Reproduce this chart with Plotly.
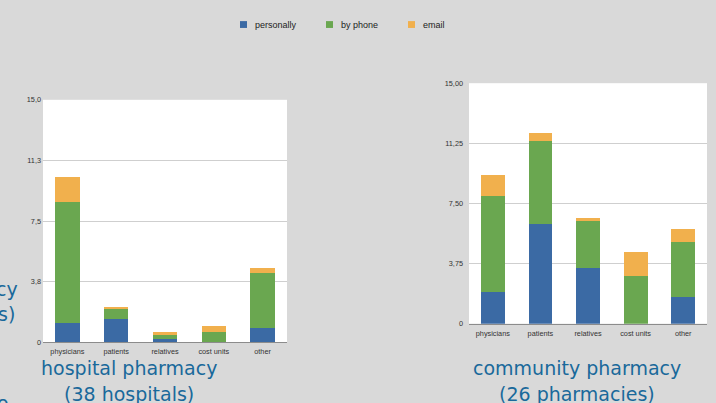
import plotly.graph_objects as go

W, H = 716, 403

categories = ["physicians", "patients", "relatives", "cost units", "other"]
series_names = ["personally", "by phone", "email"]
series_colors = ["#3b6aa4", "#6aa750", "#f1b04d"]

hosp_personally = [1.19, 1.41, 0.22, 0.0, 0.91]
hosp_phone = [7.50, 0.67, 0.27, 0.61, 3.38]
hosp_email = [1.52, 0.12, 0.12, 0.40, 0.32]

comm_personally = [1.97, 6.20, 3.47, 0.0, 1.68]
comm_phone = [6.02, 5.19, 2.92, 2.98, 3.41]
comm_email = [1.31, 0.53, 0.22, 1.52, 0.81]

tick_vals = [0, 3.75, 7.5, 11.25, 15]
hosp_tick_text = ["0", "3,8", "7,5", "11,3", "15,0"]
comm_tick_text = ["0", "3,75", "7,50", "11,25", "15,00"]

hosp_title = ["hospital pharmacy", "(38 hospitals)"]
comm_title = ["community pharmacy", "(26 pharmacies)"]


def px(x):
    return x / W


def py(y):
    return 1 - y / H


fig = go.Figure()

hosp = [hosp_personally, hosp_phone, hosp_email]
comm = [comm_personally, comm_phone, comm_email]
for vals, name, col in zip(hosp, series_names, series_colors):
    fig.add_trace(go.Bar(x=categories, y=vals, name=name, marker_color=col,
                         marker_line_width=0, width=0.5, showlegend=False,
                         xaxis="x", yaxis="y"))
for vals, name, col in zip(comm, series_names, series_colors):
    fig.add_trace(go.Bar(x=categories, y=vals, name=name, marker_color=col,
                         marker_line_width=0, width=0.5, showlegend=False,
                         xaxis="x2", yaxis="y2"))

tickfont = dict(family="Liberation Sans, Arial, sans-serif", size=7.3, color="#333333")

xcommon = dict(showline=True, linecolor="#8c8c8c", linewidth=1, ticks="",
               showgrid=False, tickfont=tickfont, fixedrange=True)
ycommon = dict(range=[0, 15], tickvals=tick_vals, showgrid=True, gridcolor="#cfcfcf",
               gridwidth=1, zeroline=False, showline=False, ticks="",
               tickfont=tickfont, fixedrange=True)

fig.update_layout(
    width=W, height=H,
    margin=dict(l=0, r=0, t=0, b=0),
    paper_bgcolor="#d9d9d9",
    plot_bgcolor="#ffffff",
    barmode="stack",
    showlegend=False,
    xaxis=dict(domain=[px(43), px(287)], anchor="y", ticklabelstandoff=2, **xcommon),
    yaxis=dict(domain=[py(346), py(98)], anchor="x", ticktext=hosp_tick_text,
               ticklabelstandoff=1, **ycommon),
    xaxis2=dict(domain=[px(469), px(707)], anchor="y2", ticklabelstandoff=3, **xcommon),
    yaxis2=dict(domain=[py(327), py(81)], anchor="x2", ticktext=comm_tick_text,
                ticklabelstandoff=5, **ycommon),
)

# legend (drawn manually to match the small square keys)
legend_left = [240, 326, 408]
shapes = []
annotations = []
for name, col, x0 in zip(series_names, series_colors, legend_left):
    shapes.append(dict(type="rect", xref="paper", yref="paper",
                       x0=px(x0), x1=px(x0 + 7), y0=py(24.5), y1=py(17.5),
                       fillcolor=col, line=dict(width=0)))
    annotations.append(dict(text=name, xref="paper", yref="paper",
                            x=px(x0 + 13), y=py(21), xanchor="left", yanchor="middle",
                            showarrow=False,
                            font=dict(family="Liberation Sans, Arial, sans-serif",
                                      size=9, color="#222222")))

title_font = dict(family="DejaVu Sans, Verdana, sans-serif", size=19, color="#19699b")
for lines, cx in ((hosp_title, 129), (comm_title, 577)):
    for line, cy in zip(lines, (372.5, 399)):
        annotations.append(dict(text=line, xref="paper", yref="paper",
                                x=px(cx), y=py(cy), xanchor="center", yanchor="middle",
                                showarrow=False, font=title_font))

# fragments of text cut off at the left edge
for frag, rx, cy in (("cy", 20, 292), ("s)", 17, 317), ("o", 11, 408)):
    annotations.append(dict(text=frag, xref="paper", yref="paper",
                            x=px(rx), y=py(cy), xanchor="right", yanchor="middle",
                            showarrow=False, font=title_font))

fig.update_layout(shapes=shapes, annotations=annotations)

fig.write_html("out.html", config={"displayModeBar": False})
